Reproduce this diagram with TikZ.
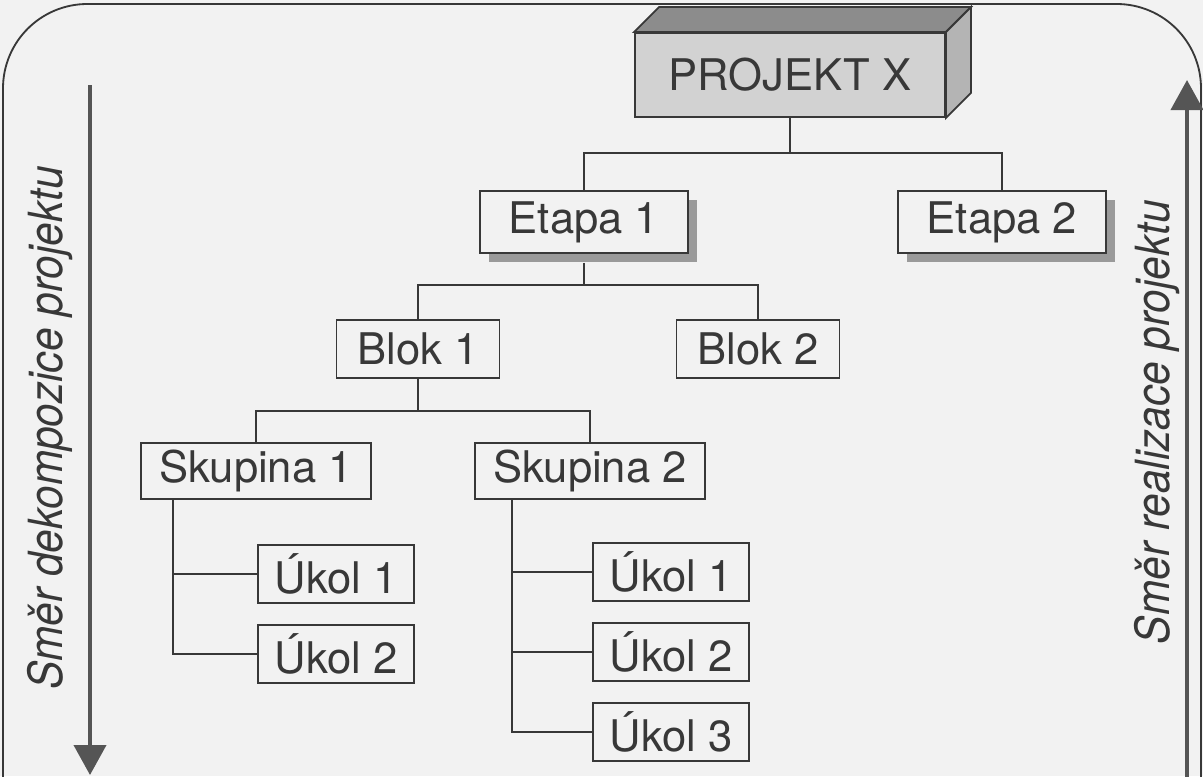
\documentclass[tikz,border=0pt]{standalone}
\usepackage{fontspec}
\setmainfont{TeX Gyre Heros}
\newfontfamily\smerfont[FakeStretch=0.9]{TeX Gyre Heros}
\usetikzlibrary{arrows.meta, positioning, calc, shadows}
\definecolor{paper}{HTML}{F2F2F2}
\definecolor{ink}{HTML}{383838}
\definecolor{frontgray}{HTML}{D2D2D2}
\definecolor{topgray}{HTML}{8C8C8C}
\definecolor{sidegray}{HTML}{B4B4B4}
\definecolor{shadegray}{HTML}{9A9A9A}
\definecolor{arrowgray}{HTML}{555555}
\tikzset{
  box/.style={
    rectangle, draw=ink, line width=1.3pt, fill=paper,
    text=ink, inner sep=0pt,
    font=\fontsize{31}{37}\selectfont,
  },
  etapa/.style={
    box, minimum width=5.2cm, minimum height=1.55cm,
    drop shadow={shadow xshift=0.22cm, shadow yshift=-0.22cm, fill=shadegray, opacity=1},
  },
  blok/.style={box, minimum width=4.075cm, minimum height=1.45cm},
  skupina/.style={box, minimum width=5.75cm, minimum height=1.42cm},
  ukol/.style={box, minimum width=3.9cm, minimum height=1.45cm},
  link/.style={draw=ink, line width=1.3pt},
  smer/.style={-{Triangle[width=0.8cm, length=0.75cm]}, draw=arrowgray, fill=arrowgray, line width=0.1cm},
  smerlabel/.style={rotate=90, text=ink, font=\smerfont\itshape\fontsize{33.5}{40}\selectfont},
}
\begin{document}
\begin{tikzpicture}[x=0.025cm, y=-0.025cm]
  \fill[paper] (0,0) rectangle (1203,776);
  \useasboundingbox (0,0) rectangle (1203,776);
  \draw[ink, line width=1.3pt, rounded corners=60] (3,800) -- (3,4) -- (1201,4) -- (1201,800);

  \node[box, fill=frontgray, minimum width=7.75cm, minimum height=2.1cm] (projekt) at (790,75) {PROJEKT X};
  \fill[topgray, draw=ink, line width=1.3pt] (projekt.north west) -- ++(25,-25) -- ($(projekt.north east)+(25,-25)$) -- (projekt.north east) -- cycle;
  \fill[sidegray, draw=ink, line width=1.3pt] (projekt.north east) -- ++(25,-25) -- ($(projekt.south east)+(25,-25)$) -- (projekt.south east) -- cycle;

  \node[etapa] (etapa1) at (584,222) {Etapa 1};
  \node[etapa] (etapa2) at (1002,222) {Etapa 2};
  \node[blok] (blok1) at (418,349) {Blok 1};
  \node[blok] (blok2) at (758,349) {Blok 2};
  \node[skupina] (skupina1) at (256,471) {Skupina 1};
  \node[skupina] (skupina2) at (590,471) {Skupina 2};
  \node[ukol] (ukol11) at (336,574) {Úkol 1};
  \node[ukol] (ukol12) at (336,654) {Úkol 2};
  \node[ukol] (ukol21) at (671,572) {Úkol 1};
  \node[ukol] (ukol22) at (671,652) {Úkol 2};
  \node[ukol] (ukol23) at (671,732) {Úkol 3};

  \draw[link] (projekt.south) -- ++(0,35) -| (etapa1.north);
  \draw[link] (projekt.south) -- ++(0,35) -| (etapa2.north);
  \draw[link] ($(etapa1.south)+(0,9)$) -- ++(0,22) -| (blok1.north);
  \draw[link] ($(etapa1.south)+(0,9)$) -- ++(0,22) -| (blok2.north);
  \draw[link] (blok1.south) -- ++(0,32) -| (skupina1.north);
  \draw[link] (blok1.south) -- ++(0,32) -| (skupina2.north);
  \draw[link] ($(skupina1.south west)+(33,0)$) |- (ukol11.west);
  \draw[link] ($(skupina1.south west)+(33,0)$) |- (ukol12.west);
  \draw[link] ($(skupina2.south west)+(38,0)$) |- (ukol21.west);
  \draw[link] ($(skupina2.south west)+(38,0)$) |- (ukol22.west);
  \draw[link] ($(skupina2.south west)+(38,0)$) |- (ukol23.west);

  \coordinate (dekTop) at (90,85);
  \coordinate (dekEnd) at (90,775);
  \coordinate (realStart) at (1187,790);
  \coordinate (realEnd) at (1187,80);
  \draw[smer] (dekTop) -- (dekEnd);
  \draw[smer] (realStart) -- (realEnd);
  \node[smerlabel] (dekLabel) at (50,428) {Směr dekompozice projektu};
  \node[smerlabel] (realLabel) at (1157,422) {Směr realizace projektu};
\end{tikzpicture}
\end{document}
